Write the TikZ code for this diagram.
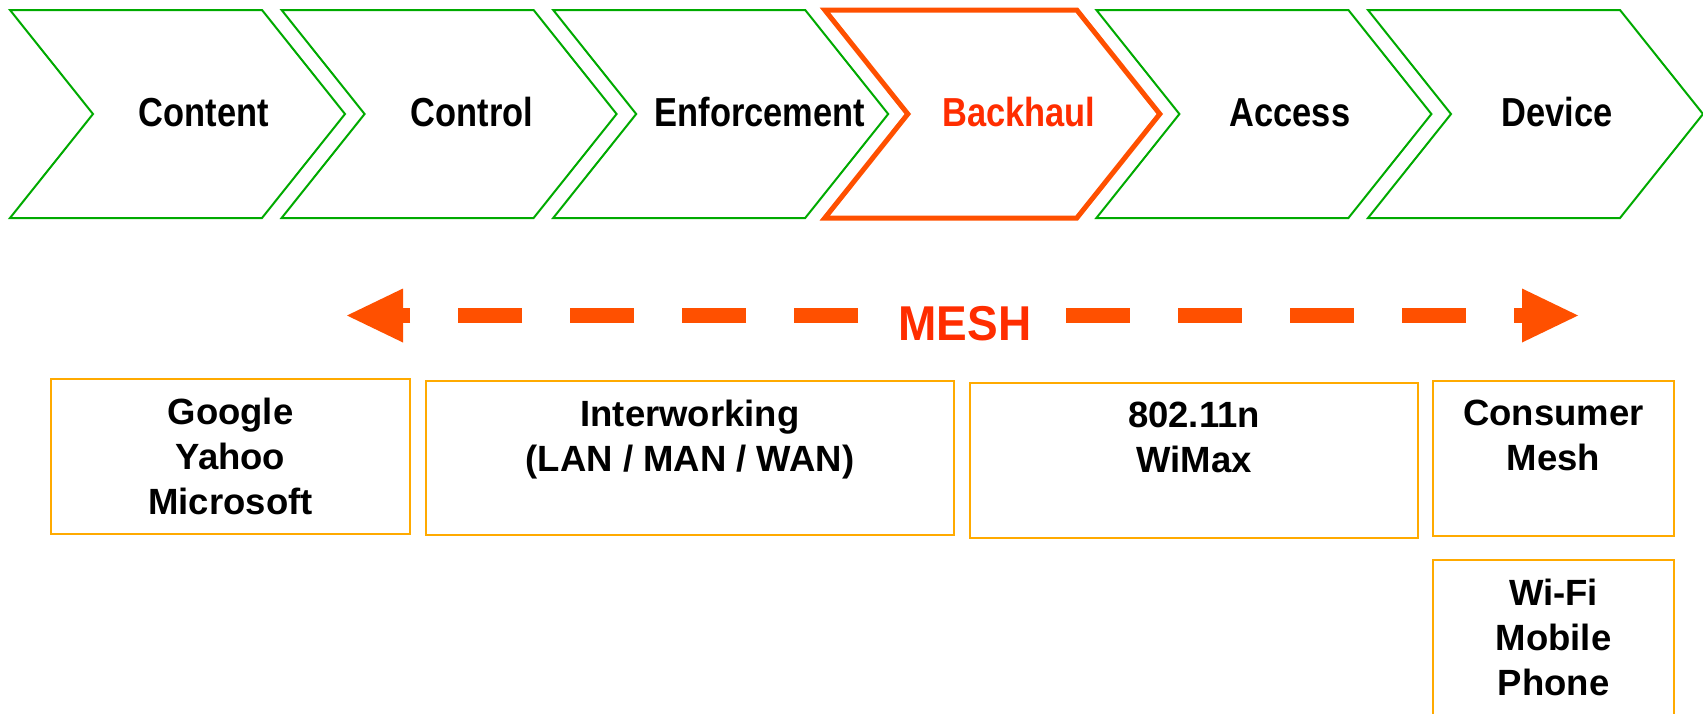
\documentclass[tikz,border=0pt]{standalone}
\usepackage{fontspec}
\setmainfont{Liberation Sans}
\newfontfamily\stagefont{Liberation Sans}[FakeStretch=0.85]
\newfontfamily\meshfont{Liberation Sans}[FakeStretch=0.94]
\usetikzlibrary{arrows.meta,calc}

\definecolor{stagegreen}{RGB}{0,170,0}
\definecolor{hotorange}{RGB}{255,80,0}
\definecolor{hotred}{RGB}{255,45,0}
\definecolor{amber}{RGB}{255,170,0}

% chevron outline: left edge x, top at y=10, 208 high
\newcommand\stagepath[1]{(#1,10) -- ++(252,0) -- ++(83,104) -- ++(-83,104) -- ++(-252,0) -- ++(83,-104) -- cycle}

\begin{document}
\begin{tikzpicture}[x=1pt,y=-1pt,
  stage/.style={draw=stagegreen, line width=2pt, line join=miter},
  hilite/.style={draw=hotorange, line width=5pt, line join=miter},
  stagelabel/.style={font=\stagefont\bfseries\fontsize{40.5}{48}\selectfont, anchor=base, inner sep=0pt},
  meshline/.style={draw=hotorange, line width=15pt, dash pattern=on 64pt off 48pt,
    -{Triangle[length=56pt,width=54pt,line width=0pt]}},
  infobox/.style={draw=amber, line width=2.2pt, rectangle, inner sep=0pt},
  infotext/.style={font=\bfseries\fontsize{36.5}{45}\selectfont, align=center, anchor=north, inner sep=0pt}
]
\path[use as bounding box, fill=white] (0,0) rectangle (1703,713);
\clip (0,0) rectangle (1703,713);

% value chain
\draw[stage] \stagepath{10};
\draw[stage] \stagepath{281.6};
\draw[stage] \stagepath{553.2};
\draw[stage] \stagepath{1096.4};
\draw[stage] \stagepath{1368};
\draw[hilite] \stagepath{824.8};

\node[stagelabel] (content) at (204,126) {Content};
\node[stagelabel] (control) at (472,126) {Control};
\node[stagelabel] (enforcement) at (760,126) {Enforcement};
\node[stagelabel, text=hotred] (backhaul) at (1019,126) {Backhaul};
\node[stagelabel] (access) at (1290,126) {Access};
\node[stagelabel] (device) at (1557,126) {Device};

% mesh span
\node[font=\meshfont\bfseries\fontsize{48.9}{55}\selectfont, text=hotred, anchor=base, inner sep=0pt] (mesh) at (965,340) {MESH};
\coordinate (meshL) at (858,315.5);
\coordinate (tipL) at (347,315.5);
\coordinate (meshR) at (1066,315.5);
\coordinate (tipR) at (1578,315.5);
\draw[meshline] (meshL) -- (tipL);
\draw[meshline] (meshR) -- (tipR);

% technology boxes
\node[infobox, minimum width=359pt, minimum height=155pt] (portal) at (230.5,456.5) {};
\node[infobox, minimum width=528pt, minimum height=154pt] (inter) at (690,458) {};
\node[infobox, minimum width=448pt, minimum height=155pt] (radio) at (1194,460.5) {};
\node[infobox, minimum width=241pt, minimum height=155pt] (consumer) at (1553.5,458.5) {};
\node[infobox, minimum width=241pt, minimum height=200pt] (handset) at (1553.5,660) {};

\node[infotext] (portaltext) at ($(portal.north)+(0,20)$) {Google\\Yahoo\\Microsoft};
\node[infotext] (intertext) at ($(inter.north)+(0,20)$) {Interworking\\(LAN / MAN / WAN)};
\node[infotext] (radiotext) at ($(radio.north)+(0,20)$) {802.11n\\WiMax};
\node[infotext] (consumertext) at ($(consumer.north)+(0,20)$) {Consumer\\Mesh};
\node[infotext] (handsettext) at ($(handset.north)+(0,20)$) {Wi-Fi\\Mobile\\Phone};
\end{tikzpicture}
\end{document}
